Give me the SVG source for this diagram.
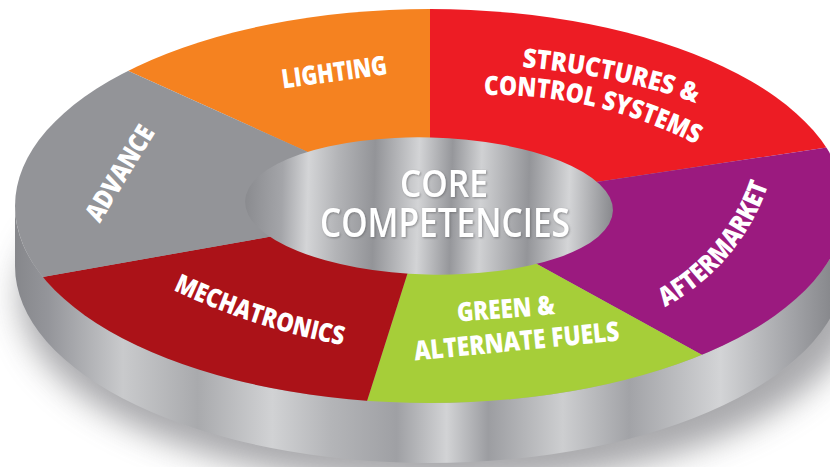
<svg xmlns="http://www.w3.org/2000/svg" width="830" height="467" viewBox="0 0 830 467">
<style>
.lbl{font-family:"Open Sans","Noto Sans","Liberation Sans",sans-serif;font-weight:800;fill:#ffffff;}
.core{font-family:"Open Sans","Noto Sans","Liberation Sans",sans-serif;font-weight:600;fill:#ffffff;}
</style>
<defs>
<clipPath id="topClip"><ellipse cx="430" cy="206" rx="415" ry="197"/></clipPath>
<linearGradient id="wallGrad" gradientUnits="userSpaceOnUse" x1="15" y1="0" x2="845" y2="0">
<stop offset="0" stop-color="#86878b"/>
<stop offset="0.04" stop-color="#94959a"/>
<stop offset="0.13" stop-color="#c9cacc"/>
<stop offset="0.22" stop-color="#a9aaad"/>
<stop offset="0.31" stop-color="#d1d2d4"/>
<stop offset="0.38" stop-color="#b4b5b8"/>
<stop offset="0.46" stop-color="#9fa0a4"/>
<stop offset="0.52" stop-color="#d2d3d5"/>
<stop offset="0.57" stop-color="#9c9da1"/>
<stop offset="0.66" stop-color="#cdced0"/>
<stop offset="0.74" stop-color="#a2a3a7"/>
<stop offset="0.85" stop-color="#d3d4d6"/>
<stop offset="0.94" stop-color="#a0a1a5"/>
<stop offset="1" stop-color="#7e7f83"/>
</linearGradient>
<linearGradient id="hubGrad" x1="0" y1="0" x2="1" y2="0">
<stop offset="0" stop-color="#8a8b8f"/>
<stop offset="0.1" stop-color="#a4a5a9"/>
<stop offset="0.17" stop-color="#d4d5d7"/>
<stop offset="0.25" stop-color="#b3b4b7"/>
<stop offset="0.35" stop-color="#939498"/>
<stop offset="0.47" stop-color="#d3d4d6"/>
<stop offset="0.56" stop-color="#96979b"/>
<stop offset="0.64" stop-color="#d0d1d3"/>
<stop offset="0.77" stop-color="#949599"/>
<stop offset="0.88" stop-color="#d4d5d7"/>
<stop offset="1" stop-color="#88898d"/>
</linearGradient>
<filter id="shadowBlur" x="-20%" y="-20%" width="140%" height="140%"><feGaussianBlur stdDeviation="16"/></filter>
<filter id="txtShadow" x="-10%" y="-20%" width="120%" height="140%"><feDropShadow dx="1" dy="1" stdDeviation="1" flood-color="#5a5b5f" flood-opacity="0.6"/></filter>
<path id="pStruct" d="M 522,67 A 381.6 143 0 0 1 760,134"/>
<path id="pControl" d="M 484,95 A 445 445 0 0 1 772,194"/>
<path id="pAfter" d="M 665,307 A 218 218 0 0 0 779,96"/>
<path id="pMech" d="M 173,290 A 700 700 0 0 0 464.5,357.2"/>
</defs>

<g id="shadow">
<ellipse cx="440" cy="296" rx="420" ry="190" fill="#6f7074" opacity="0.6" filter="url(#shadowBlur)"/>
</g>

<g id="wall">
<path d="M 15,206 A 415 197 0 0 0 845,206 L 845,266 A 415 197 0 0 1 15,266 Z" fill="url(#wallGrad)"/>
</g>

<g id="segments" clip-path="url(#topClip)">
<g id="lighting">
<polygon points="430,206 310,153 -20,4 -20,-20 430,-20 430,140" fill="#f58220"/>
</g>
<g id="structures">
<polygon points="430,206 430,140 430,-20 950,-20 950,129 603,181" fill="#ed1c24"/>
</g>
<g id="aftermarket">
<polygon points="430,206 603,181 950,129 950,480 929,480 535,263" fill="#9b1a7f"/>
</g>
<g id="green">
<polygon points="430,206 535,263 929,480 342,480 407,275" fill="#a6ce39"/>
</g>
<g id="mechatronics">
<polygon points="430,206 407,275 342,480 -20,480 -20,288 263,238" fill="#ab1218"/>
</g>
<g id="advance">
<polygon points="430,206 263,238 -20,288 -20,4 310,153" fill="#939498"/>
</g>
</g>

<g id="labels">
<text id="t-lighting" class="lbl" font-size="26.5" text-anchor="middle" transform="translate(335.5,81.3) rotate(-7.9)" textLength="106" lengthAdjust="spacingAndGlyphs">LIGHTING</text>
<text id="t-advance" class="lbl" font-size="26.5" text-anchor="middle" transform="translate(127.5,178) rotate(-58.6)" textLength="107" lengthAdjust="spacingAndGlyphs">ADVANCE</text>
<text id="t-struct" class="lbl" font-size="26.5"><textPath href="#pStruct" textLength="178" lengthAdjust="spacingAndGlyphs">STRUCTURES &amp;</textPath></text>
<text id="t-control" class="lbl" font-size="26.5"><textPath href="#pControl" textLength="220" lengthAdjust="spacingAndGlyphs">CONTROL SYSTEMS</textPath></text>
<text id="t-after" class="lbl" font-size="26.5"><textPath href="#pAfter" textLength="164" lengthAdjust="spacingAndGlyphs">AFTERMARKET</textPath></text>
<text id="t-mech" class="lbl" font-size="26"><textPath href="#pMech" textLength="179" lengthAdjust="spacingAndGlyphs">MECHATRONICS</textPath></text>
<text id="t-green1" class="lbl" font-size="26.5" text-anchor="middle" transform="translate(506.5,318) rotate(-4.5)" textLength="98" lengthAdjust="spacingAndGlyphs">GREEN &amp;</text>
<text id="t-green2" class="lbl" font-size="27" text-anchor="middle" transform="translate(517.5,350.5) rotate(-5.6)" textLength="206" lengthAdjust="spacingAndGlyphs">ALTERNATE FUELS</text>
</g>

<g id="core">
<ellipse cx="429" cy="206" rx="184" ry="68.5" fill="url(#hubGrad)" transform="rotate(1.5 429 206)"/>
<g filter="url(#txtShadow)">
<text class="core" font-size="38" x="444" y="197" text-anchor="middle" textLength="88" lengthAdjust="spacingAndGlyphs">CORE</text>
<text class="core" font-size="39" x="445" y="237" text-anchor="middle" textLength="250" lengthAdjust="spacingAndGlyphs">COMPETENCIES</text>
</g>
</g>
</svg>
